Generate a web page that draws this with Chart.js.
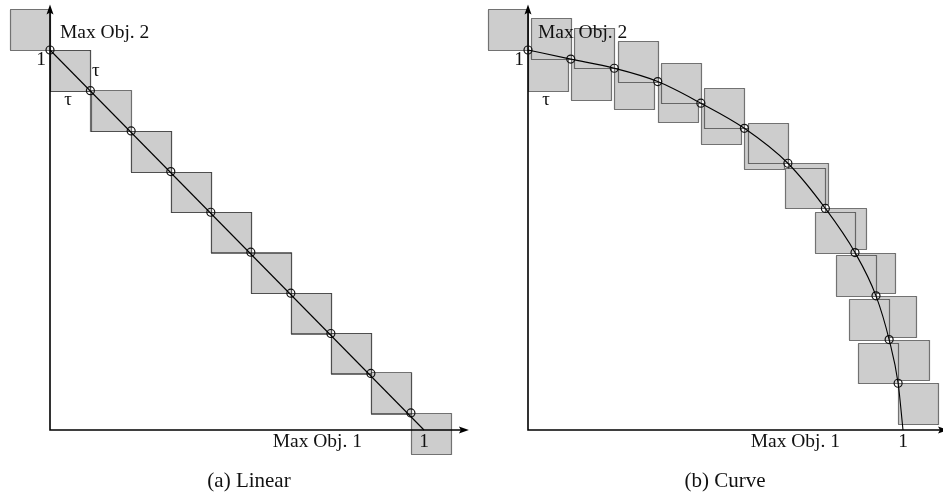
<!DOCTYPE html>
<html>
<head>
<meta charset="utf-8">
<script src="https://cdn.jsdelivr.net/npm/chart.js@4.4.1/dist/chart.umd.min.js"></script>
<style>
  html, body { margin: 0; padding: 0; background: #fff; }
  #wrap { position: relative; width: 943px; height: 495px; overflow: hidden; }
  canvas { position: absolute; top: 0; }
</style>
</head>
<body>
<div id="wrap">
  <canvas id="linearChart" width="478" height="495" style="left:0px"></canvas>
  <canvas id="curveChart" width="465" height="495" style="left:478px"></canvas>
</div>
<script>
// (a) linear front: sampled points
const linearX = [0, 0.108, 0.217, 0.323, 0.430, 0.537, 0.644, 0.751, 0.858, 0.965]
const linearY = [1, 0.893, 0.787, 0.680, 0.573, 0.468, 0.360, 0.254, 0.149, 0.045]
const linearLineX = [0, 1]
const linearLineY = [1, 0]

// (b) curved front: sampled points
const curveX = [0, 0.114, 0.230, 0.346, 0.461, 0.577, 0.693, 0.793, 0.872, 0.928, 0.963, 0.987]
const curveY = [1, 0.976, 0.952, 0.917, 0.860, 0.794, 0.702, 0.583, 0.467, 0.353, 0.238, 0.123]
const curveLineX = [0, 0.114, 0.230, 0.346, 0.461, 0.577, 0.693, 0.793, 0.872, 0.928, 0.963, 0.987, 1]
const curveLineY = [1, 0.976, 0.952, 0.917, 0.860, 0.794, 0.702, 0.583, 0.467, 0.353, 0.238, 0.123, 0]

// box size
const tau = 0.107

const tickLabels = ["1", "1"]
const axisLabels = ["Max Obj. 1", "Max Obj. 2"]
const captions = ["(a) Linear", "(b) Curve"]

const FONT = '"Liberation Serif", "DejaVu Serif", serif'
const BOX_FILL = "#cdcdcd"

function toPoints(xs, ys) {
  return xs.map((x, i) => ({ x: x, y: ys[i] }))
}

function drawBox(ctx, x1, y1, x2, y2) {
  const l = Math.round(Math.min(x1, x2)) + 0.5
  const t = Math.round(Math.min(y1, y2)) + 0.5
  const r = Math.round(Math.max(x1, x2)) + 0.5
  const b = Math.round(Math.max(y1, y2)) + 0.5
  ctx.fillStyle = BOX_FILL
  ctx.fillRect(l, t, r - l, b - t)
  ctx.setLineDash([1, 1])
  ctx.lineWidth = 1.2
  ctx.strokeStyle = "#000"
  ctx.strokeRect(l, t, r - l, b - t)
  ctx.setLineDash([])
}

const frontPlugin = {
  id: "front",
  beforeDatasetsDraw(chart, args, opts) {
    const { ctx, scales: { x, y } } = chart
    const px = v => x.getPixelForValue(v)
    const py = v => y.getPixelForValue(v)
    ctx.save()

    // upper-left and lower-right tau boxes around every point
    opts.xs.forEach((xv, i) => {
      const yv = opts.ys[i]
      drawBox(ctx, px(xv - tau), py(yv + tau), px(xv), py(yv))
      drawBox(ctx, px(xv), py(yv), px(xv + tau), py(yv - tau))
    })

    // axes with arrow heads
    const ox = px(0), oy = py(0)
    const topY = py(1.12), rightX = px(1.12)
    ctx.strokeStyle = "#000"
    ctx.fillStyle = "#000"
    ctx.lineWidth = 1.6
    ctx.beginPath()
    ctx.moveTo(ox, oy + 0.8)
    ctx.lineTo(ox, topY + 6)
    ctx.moveTo(ox - 0.8, oy)
    ctx.lineTo(rightX - 6, oy)
    ctx.stroke()

    ctx.beginPath()
    ctx.moveTo(ox, topY)
    ctx.lineTo(ox - 3.5, topY + 10)
    ctx.lineTo(ox, topY + 8)
    ctx.lineTo(ox + 3.5, topY + 10)
    ctx.closePath()
    ctx.fill()

    ctx.beginPath()
    ctx.moveTo(rightX, oy)
    ctx.lineTo(rightX - 10, oy - 3.5)
    ctx.lineTo(rightX - 8, oy)
    ctx.lineTo(rightX - 10, oy + 3.5)
    ctx.closePath()
    ctx.fill()

    ctx.restore()
  },
  afterDatasetsDraw(chart, args, opts) {
    const { ctx, scales: { x, y } } = chart
    const px = v => x.getPixelForValue(v)
    const py = v => y.getPixelForValue(v)
    ctx.save()
    ctx.fillStyle = "#111"
    ctx.textBaseline = "alphabetic"

    ctx.font = "19.5px " + FONT
    // y axis
    ctx.textAlign = "left"
    ctx.fillText(axisLabels[1], px(0) + 10, 38)
    ctx.textAlign = "right"
    ctx.fillText(tickLabels[1], px(0) - 4, py(1) + 15)
    // x axis
    ctx.textAlign = "right"
    ctx.fillText(axisLabels[0], px(0) + opts.xLabelEnd, py(0) + 17)
    ctx.textAlign = "center"
    ctx.fillText(tickLabels[0], px(1), py(0) + 17)

    // tau marks next to the first box
    ctx.font = "19px " + FONT
    ctx.textAlign = "center"
    const x0 = opts.xs[0], y0 = opts.ys[0]
    ctx.fillText("τ", px(x0 + tau / 2) - 2, py(y0 - tau) + 14)
    if (opts.sideTau) {
      ctx.textAlign = "left"
      ctx.fillText("τ", px(x0 + tau) + 2, py(y0 - tau / 2) + 6)
    }

    // caption
    ctx.font = "21px " + FONT
    ctx.textAlign = "center"
    ctx.fillText(opts.caption, opts.captionX, 487)
    ctx.restore()
  }
}

function makePanel(canvasId, panel) {
  const canvas = document.getElementById(canvasId)
  const w = canvas.width, h = canvas.height
  const [ox, oy] = panel.origin
  const [ux, uy] = panel.unit

  return new Chart(canvas.getContext("2d"), {
    type: "scatter",
    data: {
      datasets: [
        {
          data: toPoints(panel.lineX, panel.lineY),
          showLine: true,
          borderColor: "#000",
          borderWidth: 1.1,
          pointRadius: 0,
          cubicInterpolationMode: panel.smooth ? "monotone" : "default",
          clip: false
        },
        {
          data: toPoints(panel.xs, panel.ys),
          showLine: false,
          pointRadius: 4,
          pointStyle: "circle",
          borderColor: "#111",
          borderWidth: 1.2,
          backgroundColor: "rgba(0,0,0,0)",
          clip: false
        }
      ]
    },
    options: {
      responsive: false,
      animation: false,
      devicePixelRatio: 1,
      layout: { padding: 0, autoPadding: false },
      plugins: {
        legend: { display: false },
        tooltip: { enabled: false },
        front: {
          xs: panel.xs,
          ys: panel.ys,
          sideTau: panel.sideTau,
          caption: panel.caption,
          captionX: panel.captionX,
          xLabelEnd: panel.xLabelEnd
        }
      },
      scales: {
        x: { type: "linear", display: false, min: -ox / ux, max: (w - ox) / ux },
        y: { type: "linear", display: false, min: -(h - oy) / uy, max: oy / uy }
      }
    },
    plugins: [frontPlugin]
  })
}

makePanel("linearChart", {
  origin: [50, 430], unit: [374, 380],
  xs: linearX, ys: linearY, lineX: linearLineX, lineY: linearLineY,
  smooth: false, sideTau: true, caption: captions[0], captionX: 249, xLabelEnd: 312
})

makePanel("curveChart", {
  origin: [50, 430], unit: [375, 380],
  xs: curveX, ys: curveY, lineX: curveLineX, lineY: curveLineY,
  smooth: true, sideTau: false, caption: captions[1], captionX: 247, xLabelEnd: 312
})
</script>
</body>
</html>
